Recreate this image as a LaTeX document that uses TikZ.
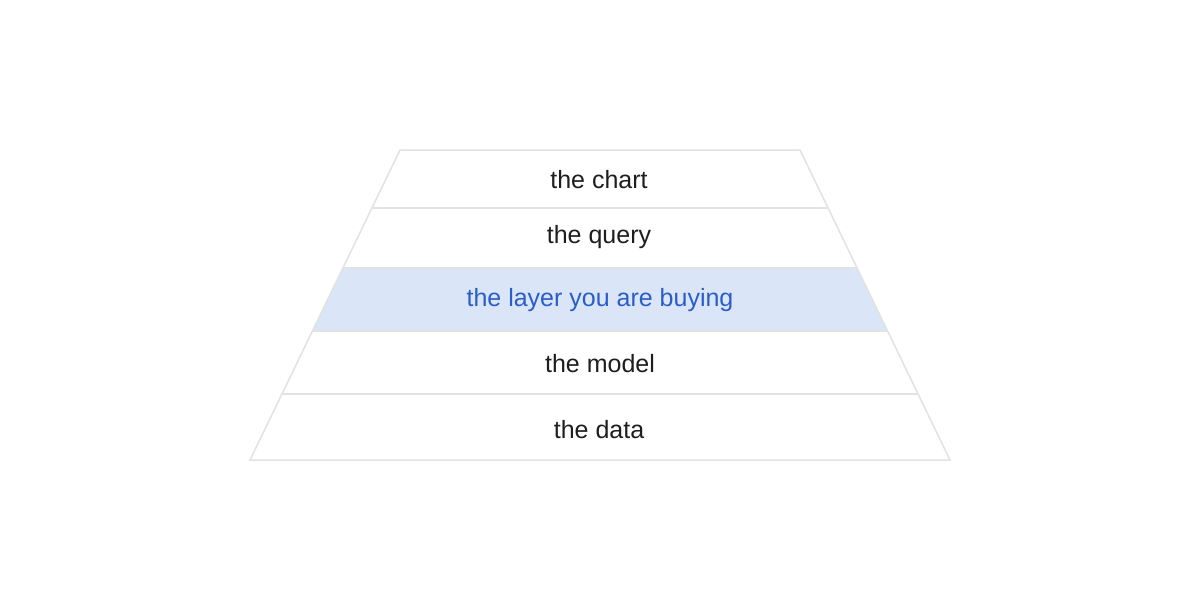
\documentclass[tikz,border=0pt]{standalone}
\usepackage{fontspec}
\setmainfont{Liberation Sans}
\definecolor{edgegray}{HTML}{E2E2E2}
\definecolor{bandblue}{HTML}{DAE5F8}
\definecolor{textblue}{HTML}{2A5DC8}
\definecolor{textdark}{HTML}{1E1E1E}
\begin{document}
\begin{tikzpicture}[x=1pt,y=-1pt,
  outline/.style={draw=edgegray,line width=1.5pt,line join=miter},
  layertext/.style={font=\fontsize{25}{29}\selectfont,text=textdark,inner sep=0pt,anchor=base},
  hightext/.style={layertext,text=textblue}]
\useasboundingbox[fill=white] (0,0) rectangle (1200,600);
% highlighted band
\fill[bandblue] (343,268) -- (857,268) -- (887.6,331) -- (312.4,331) -- cycle;
% outline
\draw[outline] (400,150) -- (800,150) -- (950,460) -- (250,460) -- cycle;
\draw[outline] (372,208) -- (828,208);
\draw[outline] (343,268) -- (857,268);
\draw[outline] (312.4,331) -- (887.6,331);
\draw[outline] (281.9,394) -- (918.1,394);
% labels
\node[layertext] (chart) at (599,188.3) {the chart};
\node[layertext] (query) at (599,243.5) {the query};
\node[hightext] (layer) at (600,306.7) {the layer you are buying};
\node[layertext] (model) at (600,372.3) {the model};
\node[layertext] (data) at (599,438.3) {the data};
\end{tikzpicture}
\end{document}
